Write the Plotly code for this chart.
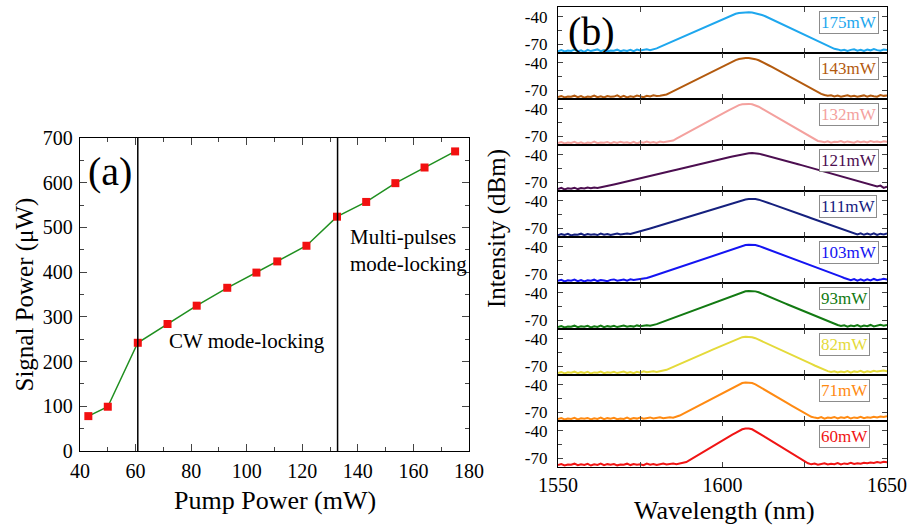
import plotly.graph_objects as go

W, H = 911, 527
FONT = "Liberation Serif"

# ---------------- panel (a): signal power vs pump power ----------------
pump_power = [43, 50, 60.8, 71.5, 82, 93, 103.5, 111, 121.5, 132.5, 143, 153.5, 164, 175]
signal_power = [78, 99, 242, 284, 325, 365, 399, 424, 459, 524, 557, 599, 634, 670]
regime_bounds = [60.8, 132.7]

# ---------------- panel (b): optical spectra ----------------
wavelength = list(range(1550, 1651))

spec_175 = [-77.6, -76.4, -77.9, -76.9, -77.3, -75.8, -77.7, -76.6, -78.2, -76.1, -77.4, -76.8, -75.6, -77.5, -76.3,
            -77.8, -76.7, -77.1, -75.9, -77.6, -76.5, -77.2, -76.0, -77.4, -75.7, -76.8, -76.2, -75.5, -76.4,
            -75.6, -74.5, -72.9, -71.3, -69.7, -68.1, -66.5, -64.9, -63.3, -61.7, -60.1, -58.5, -56.9, -55.3,
            -53.7, -52.1, -50.5, -48.9, -47.3, -45.7, -44.1, -42.5, -40.9, -39.3, -38.0, -36.9, -36.1, -35.6,
            -35.3, -35.3, -35.6, -36.2, -37.0, -38.2, -39.6, -41.3, -43.0, -44.7, -46.4, -48.1, -49.8, -51.5,
            -53.2, -54.9, -56.6, -58.3, -60.0, -61.7, -63.4, -65.1, -66.8, -68.5, -70.2, -71.9, -73.6, -75.0,
            -75.6, -76.8, -75.9, -77.2, -76.1, -75.4, -76.9, -76.0, -77.3, -75.7, -76.6, -75.2, -76.4, -77.0,
            -75.8, -76.3]
spec_143 = [-77.4, -76.2, -77.8, -76.7, -77.1, -75.9, -77.6, -76.4, -78.0, -76.8, -77.3, -75.7, -77.5, -76.6, -77.9,
            -76.3, -77.0, -76.9, -75.6, -77.4, -76.1, -77.7, -76.5, -77.2, -75.8, -76.9, -77.5, -76.0, -76.7,
            -75.5, -76.3, -75.9,
            -75.6, -74.6, -72.8, -71.0, -69.2, -67.4, -65.6, -63.8, -62.0, -60.2, -58.4, -56.6, -54.8, -53.0,
            -51.2, -49.4, -47.6, -45.8, -44.0, -42.2, -40.4, -38.6, -37.2, -36.1, -35.4, -35.0, -35.0, -35.4,
            -36.2, -37.4, -39.0, -40.8, -42.8, -44.7, -46.7, -48.6, -50.6, -52.5, -54.5, -56.4, -58.4, -60.3,
            -62.3, -64.2, -66.2, -68.1, -70.1, -72.0, -73.9, -75.2,
            -76.0, -75.4, -76.7, -75.8, -77.0, -76.2, -75.5, -76.8, -75.9, -77.1, -76.3, -75.6, -76.9, -75.7,
            -76.4, -77.0, -75.3, -76.1, -75.8]
spec_132 = [-77.5, -76.3, -77.9, -76.8, -77.2, -76.0, -77.7, -76.5, -78.1, -76.9, -77.4, -75.8, -77.6, -76.7, -77.0,
            -76.2, -77.8, -76.4, -77.3, -75.9, -77.1, -76.6, -77.5, -76.1, -77.8, -76.3, -77.0, -75.7, -76.9,
            -76.2, -77.3, -75.8, -76.6, -75.9,
            -75.6, -74.7, -72.7, -70.8, -68.8, -66.9, -64.9, -63.0, -61.0, -59.1, -57.1, -55.2, -53.2, -51.3,
            -49.3, -47.4, -45.4, -43.5, -41.5, -39.6, -37.7, -36.2, -35.2, -34.8, -34.8, -35.3, -36.3, -37.9,
            -40.0, -42.1, -44.2, -46.3, -48.4, -50.5, -52.6, -54.7, -56.8, -58.9, -61.0, -63.1, -65.2, -67.3,
            -69.4, -71.5, -73.6, -75.1,
            -75.8, -76.5, -75.4, -76.9, -75.9, -76.3, -75.2, -76.7, -75.6, -76.1, -77.0, -75.5, -76.4, -75.8,
            -76.8, -75.3, -76.2, -75.7, -76.6, -75.4, -76.0]
spec_121 = [-77.3, -76.1, -77.7, -76.6, -77.0, -75.9, -77.4, -76.3, -76.8, -75.7, -76.5, -75.8, -76.2,
            -75.6, -75.1, -74.2, -73.4, -72.5, -71.7, -70.8, -70.0, -69.1, -68.3, -67.4, -66.6, -65.8, -64.9,
            -64.1, -63.2, -62.4, -61.5, -60.7, -59.8, -59.0, -58.2, -57.3, -56.5, -55.6, -54.8, -53.9, -53.1,
            -52.2, -51.4, -50.6, -49.7, -48.9, -48.0, -47.2, -46.3, -45.5, -44.6, -43.8, -42.9, -42.1, -41.3,
            -40.4, -39.6, -38.9, -38.4, -38.3, -38.5, -38.9, -39.8, -40.7, -41.7, -42.7, -43.6, -44.6, -45.6,
            -46.6, -47.5, -48.5, -49.5, -50.4, -51.4, -52.4, -53.3, -54.3, -55.3, -56.3, -57.2, -58.2, -59.2,
            -60.1, -61.1, -62.1, -63.0, -64.0, -65.0, -66.0, -66.9, -67.9, -68.9, -69.8, -70.8, -71.8, -72.9,
            -74.5, -73.6, -76.1, -74.8]
spec_111 = [-77.6, -76.4, -77.2, -76.0, -77.8, -76.7, -77.1, -75.9, -77.5, -76.3, -77.0, -76.6, -77.4, -75.8, -76.9,
            -76.2, -77.3, -76.5, -75.7, -76.8, -76.0, -75.6, -76.3,
            -75.4, -74.5, -73.4, -72.3, -71.2, -70.2, -69.1, -68.0, -66.9, -65.8, -64.7, -63.6, -62.5, -61.4,
            -60.3, -59.3, -58.2, -57.1, -56.0, -54.9, -53.8, -52.7, -51.6, -50.5, -49.5, -48.4, -47.3, -46.2,
            -45.1, -44.0, -42.9, -41.8, -40.7, -39.6, -38.7, -38.2, -38.0, -38.2, -38.9, -39.9, -41.2, -42.5,
            -43.8, -45.0, -46.3, -47.6, -48.9, -50.2, -51.4, -52.7, -54.0, -55.3, -56.6, -57.8, -59.1, -60.4,
            -61.7, -63.0, -64.2, -65.5, -66.8, -68.1, -69.4, -70.6, -71.9, -73.2, -74.5, -75.3,
            -76.6, -75.4, -77.1, -75.8, -76.9, -75.5, -77.3, -75.9, -76.7, -75.6]
spec_103 = [-77.2, -76.0, -77.7, -76.5, -77.0, -75.7, -77.5, -76.3, -77.9, -76.6, -77.1, -75.9, -77.4, -76.2, -76.8,
            -77.6, -76.1, -75.6, -77.0, -76.4, -75.8, -76.9, -75.5, -76.3, -75.9, -75.4,
            -75.3, -74.1, -72.9, -71.7, -70.5, -69.3, -68.1, -66.8, -65.6, -64.4, -63.2, -62.0, -60.8, -59.6,
            -58.4, -57.2, -56.0, -54.7, -53.5, -52.3, -51.1, -49.9, -48.7, -47.5, -46.3, -45.1, -43.9, -42.6,
            -41.4, -40.2, -39.1, -38.3, -37.8, -37.9, -38.3, -39.2, -40.5, -41.8, -43.2, -44.5, -45.8, -47.2,
            -48.5, -49.9, -51.2, -52.5, -53.9, -55.2, -56.6, -57.9, -59.2, -60.6, -61.9, -63.3, -64.6, -65.9,
            -67.3, -68.6, -70.0, -71.3, -72.6, -74.0, -75.0,
            -76.4, -75.2, -76.9, -75.6, -77.0, -75.5, -76.7, -75.1, -76.5, -75.8, -74.9, -75.6]
spec_93 = [-77.4, -76.3, -77.8, -76.7, -77.1, -75.9, -77.6, -76.5, -77.0, -76.1, -77.7, -76.6, -77.3, -75.8, -77.5,
           -76.4, -77.0, -76.0, -77.4, -76.8, -75.7, -77.1, -76.3, -76.9, -75.6, -76.5, -76.0, -75.4, -75.9,
           -75.3, -74.2, -72.8, -71.5, -70.2, -68.8, -67.5, -66.1, -64.8, -63.5, -62.1, -60.8, -59.4, -58.1,
           -56.8, -55.4, -54.1, -52.7, -51.4, -50.1, -48.7, -47.4, -46.0, -44.7, -43.4, -42.0, -40.7, -39.4,
           -38.5, -38.1, -38.1, -38.6, -39.6, -41.0, -42.5, -44.0, -45.6, -47.1, -48.6, -50.1, -51.6, -53.1,
           -54.6, -56.1, -57.6, -59.1, -60.7, -62.2, -63.7, -65.2, -66.7, -68.2, -69.7, -71.2, -72.7, -74.2,
           -75.2,
           -76.3, -75.4, -76.9, -75.7, -76.5, -75.2, -77.0, -75.8, -76.4, -75.1, -76.7, -75.5, -74.8, -75.9,
           -75.0]
spec_82 = [-77.3, -76.2, -77.8, -76.6, -77.0, -75.9, -77.6, -76.4, -77.2, -76.0, -77.9, -76.7, -77.1, -75.8, -77.5,
           -76.5, -77.0, -76.1, -77.4, -76.8, -75.7, -77.2, -76.3, -77.6, -76.0, -76.9, -75.6, -76.6, -76.1,
           -75.5, -76.3, -75.7,
           -75.3, -73.9, -72.3, -70.8, -69.2, -67.6, -66.1, -64.5, -62.9, -61.4, -59.8, -58.2, -56.6, -55.1,
           -53.5, -51.9, -50.4, -48.8, -47.2, -45.6, -44.1, -42.5, -40.9, -39.4, -38.4, -37.9, -37.9, -38.4,
           -39.5, -41.1, -42.7, -44.4, -46.0, -47.7, -49.4, -51.0, -52.7, -54.3, -56.0, -57.6, -59.2, -60.9,
           -62.5, -64.2, -65.9, -67.5, -69.2, -70.8, -72.5, -74.1, -75.3,
           -76.2, -75.5, -76.8, -75.7, -76.4, -75.2, -76.9, -75.6, -76.3, -75.0, -76.6, -75.4, -76.1, -74.9,
           -75.8, -75.2, -74.7, -75.3]
spec_71 = [-77.5, -76.4, -77.9, -76.8, -77.2, -76.0, -77.7, -76.5, -77.1, -76.2, -77.8, -76.6, -77.3, -75.9, -77.6,
           -76.4, -77.0, -76.1, -77.5, -76.7, -77.2, -75.8, -77.4, -76.3, -76.9, -75.7, -77.1, -76.5, -75.6,
           -76.8, -76.0, -75.5, -76.4, -75.7, -75.3, -75.9,
           -75.0, -73.6, -71.7, -69.8, -67.9, -66.0, -64.1, -62.2, -60.3, -58.4, -56.5, -54.6, -52.7, -50.8,
           -48.9, -47.0, -45.1, -43.2, -41.3, -39.5, -38.2, -37.6, -37.6, -38.3, -39.7, -41.7, -43.8, -45.9,
           -48.0, -50.1, -52.2, -54.3, -56.4, -58.5, -60.6, -62.7, -64.8, -66.9, -69.0, -71.1, -73.2, -74.9,
           -75.8, -76.5, -75.3, -76.9, -75.7, -76.2, -75.1, -76.7, -75.5, -76.3, -75.0, -76.8, -75.6, -76.1,
           -74.9, -76.4, -75.4, -75.9, -74.8, -75.6, -74.6, -75.2, -74.4]
spec_60 = [-77.4, -76.3, -77.8, -76.7, -77.1, -75.9, -77.6, -76.5, -77.2, -76.1, -77.9, -76.6, -77.3, -75.8, -77.5,
           -76.4, -77.0, -76.2, -77.7, -76.8, -77.1, -75.9, -77.4, -76.3, -77.0, -76.6, -77.6, -75.8, -76.9,
           -76.2, -77.3, -76.5, -75.7, -76.8, -76.1, -75.6, -76.4, -75.8, -75.3,
           -74.1, -72.0, -69.8, -67.7, -65.6, -63.5, -61.4, -59.2, -57.1, -55.0, -52.9, -50.7, -48.6, -46.5,
           -44.4, -42.3, -40.1, -38.5, -37.6, -37.6, -38.5, -40.3, -42.6, -44.8, -47.1, -49.3, -51.6, -53.8,
           -56.1, -58.3, -60.6, -62.8, -65.1, -67.3, -69.6, -71.8, -74.1,
           -75.4, -76.6, -75.8, -77.0, -76.2, -75.5, -76.8, -75.9, -76.4, -75.3, -76.7, -75.6, -76.1, -75.0,
           -76.3, -75.4, -75.9, -74.8, -75.5, -74.6, -75.1, -74.2, -74.8, -73.9, -74.3]

spectra = [spec_175, spec_143, spec_132, spec_121, spec_111, spec_103, spec_93, spec_82, spec_71, spec_60]
power_labels = ["175mW", "143mW", "132mW", "121mW", "111mW", "103mW", "93mW", "82mW", "71mW", "60mW"]
colors = ["#1EA7EE", "#B35A0E", "#F4A19E", "#4C0E50", "#15207E", "#1414F2",
          "#127A12", "#E4DA3A", "#FF8A12", "#F01414"]

for s in spectra:
    assert len(s) == len(wavelength), len(s)


def px_x(p):
    return p / W


def px_y(p):
    return 1 - p / H


fig = go.Figure()

# panel (a)
fig.add_trace(go.Scatter(
    x=pump_power, y=signal_power, mode="lines+markers",
    line=dict(color="#1F8F1F", width=1.5),
    marker=dict(symbol="square", size=8, color="#F21010", line=dict(width=0)),
    xaxis="x", yaxis="y", showlegend=False, cliponaxis=False))

for xb in regime_bounds:
    fig.add_shape(type="line", xref="x", yref="y", x0=xb, x1=xb, y0=0, y1=700,
                  line=dict(color="black", width=1.5))

axis_common = dict(showline=True, linecolor="black", linewidth=1.3, mirror="allticks",
                   ticks="inside", showgrid=False, zeroline=False, automargin=False,
                   tickfont=dict(family=FONT, size=20, color="black"))

layout = dict(
    width=W, height=H, margin=dict(l=0, r=0, t=0, b=0, pad=0, autoexpand=False),
    paper_bgcolor="white", plot_bgcolor="white", showlegend=False,
    xaxis=dict(domain=[px_x(80), px_x(469)], anchor="y", range=[40, 180], dtick=20, ticklen=7,
               ticklabelstandoff=2,
               minor=dict(dtick=10, ticklen=4, ticks="inside"), **axis_common),
    yaxis=dict(domain=[px_y(451), px_y(138)], anchor="x", range=[0, 700], dtick=100, ticklen=7,
               ticklabelstandoff=2,
               minor=dict(dtick=50, ticklen=4, ticks="inside"), **axis_common),
)

# panel (b): ten stacked spectra
row_top, row_h = 7, 46
annotations = []
for i, (spec, lab, col) in enumerate(zip(spectra, power_labels, colors)):
    k = i + 2
    fig.add_trace(go.Scatter(x=wavelength, y=spec, mode="lines",
                             line=dict(color=col, width=2),
                             xaxis=f"x{k}", yaxis=f"y{k}", showlegend=False))
    top = row_top + i * row_h
    bottom = top + row_h
    last = i == len(spectra) - 1
    b_common = dict(showline=True, linecolor="black", linewidth=1.2, mirror="allticks",
                    ticks="inside", showgrid=False, zeroline=False, ticklen=5, automargin=False)
    layout[f"xaxis{k}"] = dict(
        domain=[px_x(558), px_x(887)], anchor=f"y{k}", range=[1550, 1650],
        tickvals=[1550, 1600, 1650], showticklabels=last,
        minor=dict(tickvals=[1575, 1625], ticklen=5, ticks="inside"),
        tickfont=dict(family=FONT, size=20, color="black"), **b_common)
    layout[f"yaxis{k}"] = dict(
        domain=[px_y(bottom), px_y(top)], anchor=f"x{k}", range=[-79.5, -29.5],
        tickvals=[-70, -40], ticktext=["-70", "-40"],
        minor=dict(tickvals=[-55], ticklen=4, ticks="inside"),
        tickfont=dict(family=FONT, size=17, color="black"), ticklabelstandoff=6, **b_common)
    annotations.append(dict(
        text=lab, xref="paper", yref=f"y{k} domain", x=px_x(819), y=1 - 15.5 / row_h,
        xanchor="left", yanchor="middle", showarrow=False,
        font=dict(family=FONT, size=17, color=col),
        bordercolor="#8C8C8C", borderwidth=1, borderpad=1, bgcolor="white"))

text_font = dict(family=FONT, color="black")
centered = dict(xanchor="center", yanchor="middle", showarrow=False)
annotations += [
    dict(text="(a)", xref="x", yref="y", x=50.8, y=624, font=dict(size=40, **text_font), **centered),
    dict(text="CW mode-locking", xref="x", yref="y", x=100, y=245,
         font=dict(size=21, **text_font), **centered),
    dict(text="Multi-pulses<br>mode-locking", xref="x", yref="y", x=136.4, y=449,
         xanchor="left", yanchor="middle", align="left", showarrow=False,
         font=dict(size=21, **text_font)),
    dict(text="(b)", xref="paper", yref="paper", x=px_x(591), y=px_y(32),
         font=dict(size=40, **text_font), **centered),
    dict(text="Signal Power (\u03bcW)", xref="paper", yref="paper", x=px_x(24), y=px_y(294.5),
         textangle=-90, font=dict(size=25, **text_font), **centered),
    dict(text="Pump Power (mW)", xref="paper", yref="paper", x=px_x(274.5), y=px_y(500),
         font=dict(size=26, **text_font), **centered),
    dict(text="Intensity (dBm)", xref="paper", yref="paper", x=px_x(497), y=px_y(229),
         textangle=-90, font=dict(size=25, **text_font), **centered),
    dict(text="Wavelength (nm)", xref="paper", yref="paper", x=px_x(724), y=px_y(510),
         font=dict(size=26, **text_font), **centered),
]
layout["annotations"] = annotations

fig.update_layout(**layout)
fig.write_html("out.html")
